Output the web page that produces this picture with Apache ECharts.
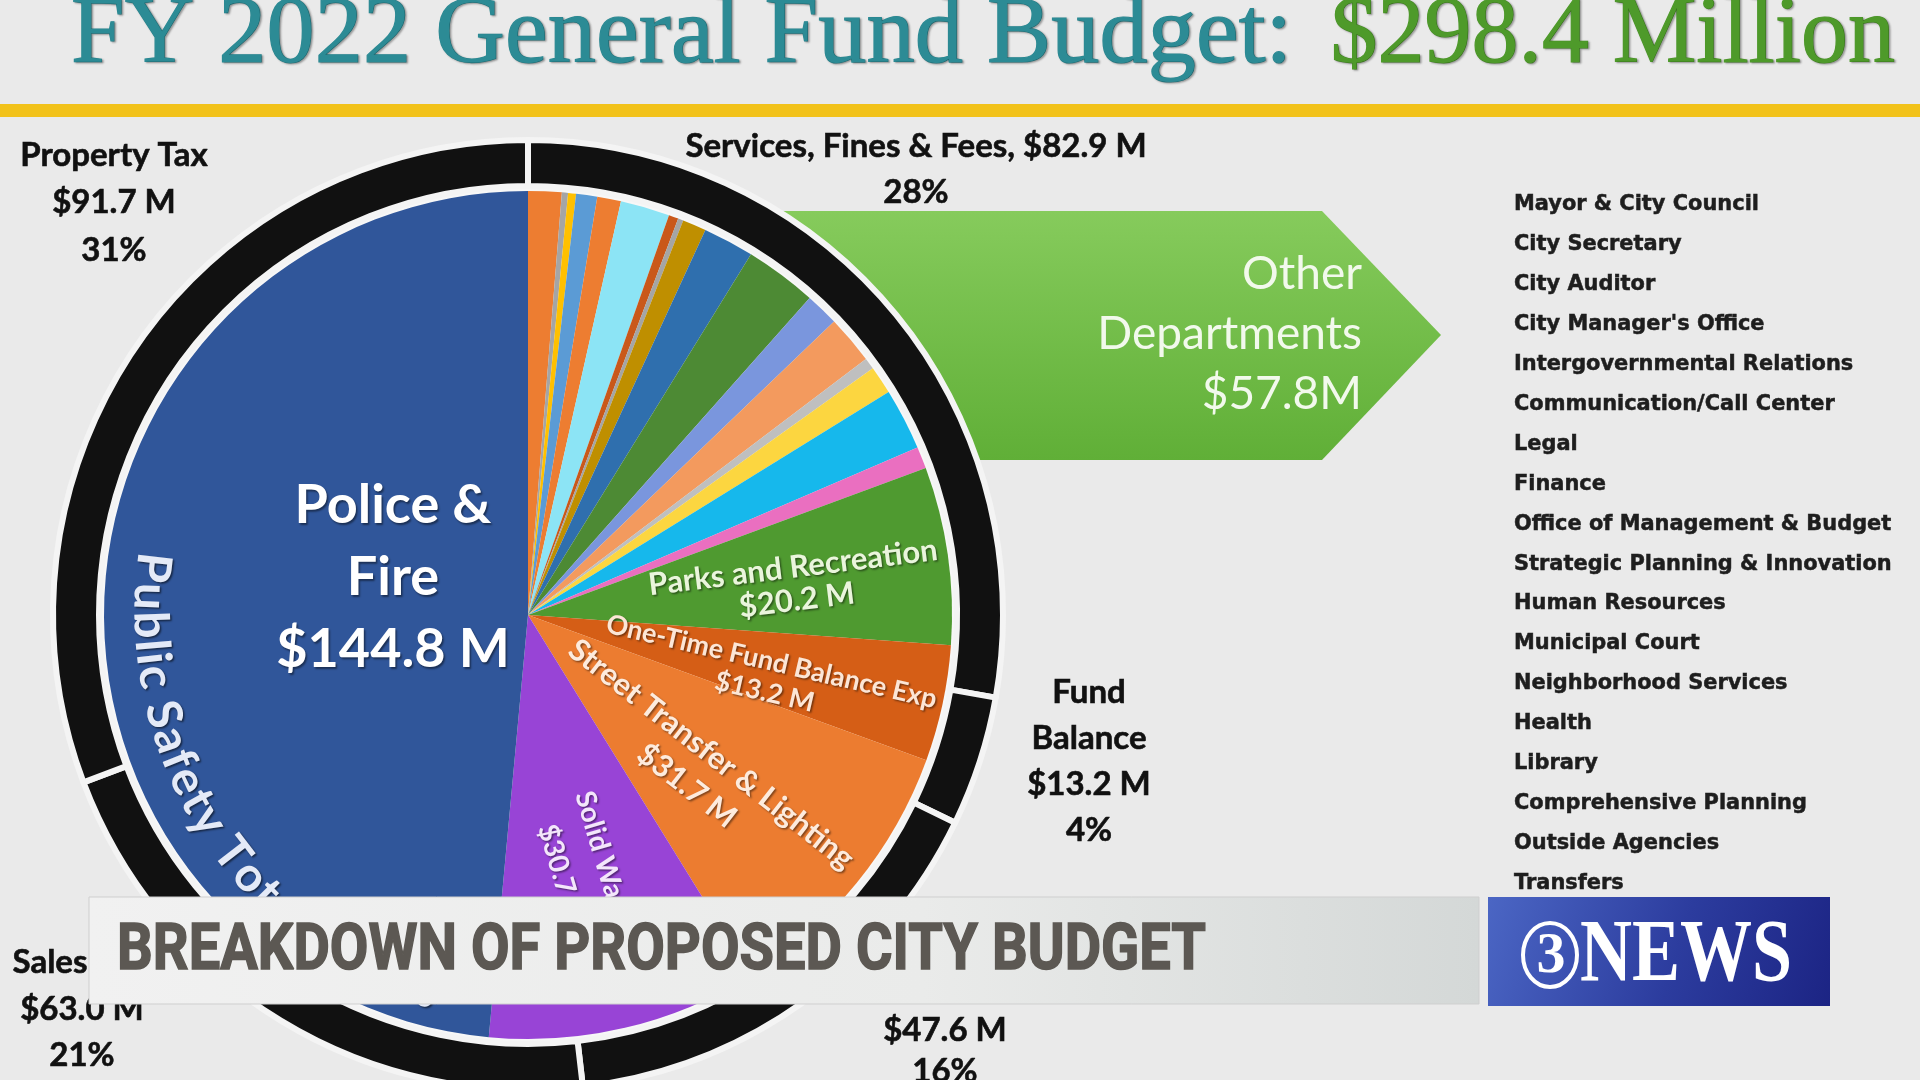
<!DOCTYPE html>
<html><head><meta charset="utf-8">
<script src="https://cdn.jsdelivr.net/npm/echarts@6/dist/echarts.min.js"></script>
<style>html,body{margin:0;padding:0;background:#EAEAEA;}#c{width:1920px;height:1080px;}</style>
</head><body><div id="c"></div>
<script>
// ---------------- DATA ----------------
const titleMain = 'FY 2022 General Fund Budget: ';
const titleTotal = '$298.4 Million';
// inner pie, clockwise from 12 o'clock: the small "Other Departments" slices first
const otherSliceValues = [3.8, 0.7, 0.9, 2.4, 2.7, 5.6, 1.1, 0.6, 2.7, 5.8, 8.2, 3.8, 5.5, 1.3, 3.2, 7.0, 2.5];
const otherSliceColors = ['#ED7D31','#A5A5A5','#FFC000','#5B9BD5','#ED7D31','#8CE4F5','#C9581A','#A5A5A5','#BF8F00','#2F6FAE','#4D8A34','#7A96DD','#F39A5E','#BFBFBF','#FCD640','#16B8EC','#EA6FC0'];
const otherTotalLabel = ['Other', 'Departments', '$57.8M'];
const deptNames  = ['Parks and Recreation', 'One-Time Fund Balance Exp', 'Street Transfer & Lighting', 'Solid Waste', 'Police & Fire'];
const deptValues = [20.2, 13.2, 31.7, 30.7, 144.8];
const deptAmounts = ['$20.2 M', '$13.2 M', '$31.7 M', '$30.7 M', '$144.8 M'];
const deptColors = ['#4F9A30', '#D55E16', '#EC7C30', '#9844D6', '#30569A'];
// outer ring (revenue), clockwise from 12 o'clock
const revenueNames  = ['Services, Fines & Fees', 'Fund Balance', 'Other Revenue', 'Sales', 'Property Tax'];
const revenueValues = [82.9, 13.2, 47.6, 63.0, 91.7];
const revenueAmounts = ['$82.9 M', '$13.2 M', '$47.6 M', '$63.0 M', '$91.7 M'];
const revenuePcts = ['28%', '4%', '16%', '21%', '31%'];
const otherDeptList = ['Mayor & City Council','City Secretary','City Auditor',"City Manager's Office",'Intergovernmental Relations','Communication/Call Center','Legal','Finance','Office of Management & Budget','Strategic Planning & Innovation','Human Resources','Municipal Court','Neighborhood Services','Health','Library','Comprehensive Planning','Outside Agencies','Transfers'];
const publicSafetyText = 'Public Safety Total 48.5%';
const bannerText = 'BREAKDOWN OF PROPOSED CITY BUDGET';

// ---------------- HELPERS ----------------
const C = [528, 615];
const cv = document.createElement('canvas').getContext('2d');
function measure(t, size, fam, wt) { cv.font = (wt || 'normal') + ' ' + size + 'px "' + fam + '"'; return cv.measureText(t).width; }
function txt(o) {
  const st = {
    text: o.text, fontSize: o.size, fontFamily: o.family, fontWeight: o.weight || 'normal',
    fill: o.color, align: o.align || 'center', textAlign: o.align || 'center',
    verticalAlign: 'middle', textVerticalAlign: 'middle'
  };
  if (o.stroke) { st.stroke = o.stroke; st.lineWidth = o.lineWidth || 1; }
  if (o.shadow) { st.textShadowColor = o.shadow; st.textShadowBlur = o.blur || 2; st.textShadowOffsetX = 1.5; st.textShadowOffsetY = 1.5; }
  return { type: 'text', x: o.x, y: o.y, rotation: -(o.rotate || 0) * Math.PI / 180, scaleX: o.scaleX || 1, z: o.z || 10, silent: true, style: st };
}
function block(lines, cx, cy, rot, gap, size, color, wt, z) {
  const r = rot * Math.PI / 180, dx = -Math.sin(r), dy = Math.cos(r);
  return lines.map((l, i) => {
    const k = i - (lines.length - 1) / 2;
    return txt({ text: l, x: cx + dx * gap * k, y: cy + dy * gap * k, rotate: rot, size, family: 'Lato', weight: wt || 'bold', color, shadow: 'rgba(0,0,0,0.45)', z });
  });
}
function plain(lines, cx, cy, gap, size, z) {
  return lines.map((l, i) => txt({ text: l, x: cx, y: cy + gap * i, size, family: 'Lato', weight: 'bold', color: '#111111', stroke: '#111111', lineWidth: 0.6, z }));
}

// ---------------- GRAPHICS ----------------
const els = [];
els.push({ type: 'rect', silent: true, z: 5, shape: { x: 0, y: 104, width: 1920, height: 13 }, style: { fill: '#F2C21A' } });
// title
const TS = 95, TF = 'Liberation Serif';
const w1 = measure(titleMain, TS, TF), w2 = measure(titleTotal, TS, TF);
const tsx = (1895 - 71) / (w1 + w2);
els.push(txt({ text: titleMain, x: 71, y: 37, size: TS, family: TF, color: '#2C8B95', stroke: '#2C8B95', lineWidth: 1.2, align: 'left', scaleX: tsx, shadow: 'rgba(0,0,0,0.3)' }));
els.push(txt({ text: titleTotal, x: 71 + w1 * tsx + 14, y: 37, size: TS, family: TF, color: '#4E9A2A', stroke: '#4E9A2A', lineWidth: 1.2, align: 'left', scaleX: tsx * (1895 - 71 - w1 * tsx - 14) / (w2 * tsx), shadow: 'rgba(0,0,0,0.3)' }));

// green arrow (behind pie)
els.push({ type: 'polygon', silent: true, z: 1, shape: { points: [[700, 211], [1322, 211], [1441, 335], [1322, 460], [700, 460]] },
  style: { fill: new echarts.graphic.LinearGradient(0, 0, 0, 1, [{ offset: 0, color: '#86CB5C' }, { offset: 1, color: '#60AF37' }]) } });
otherTotalLabel.forEach((l, i) => els.push(txt({ text: l, x: 1362, y: 274 + 60 * i, size: 46, family: 'Lato', color: '#F2F9EC', align: 'right' })));

// inner labels
els.push(...block(['Police &', 'Fire', deptAmounts[4]], 393, 578, 0, 72, 54, '#FFFFFF'));
els.push(...block([deptNames[0], deptAmounts[0]], 795, 584, -7, 33, 31, '#EAF5DC'));
els.push(...block([deptNames[1], deptAmounts[1]], 768, 677, 13, 31, 27, '#FCE6D6'));
els.push(...block([deptNames[2], deptAmounts[2]], 699, 770, 38, 40, 31, '#FDEBDD'));
els.push(...block([deptNames[3], deptAmounts[3]], 583, 869, 73.5, 45, 28, '#F3E6FB'));

// curved "Public Safety" text
(function () {
  const fs = 48, r = 398, ac = [548, 612];
  let theta = 276.5 + (measure(publicSafetyText[0], fs, 'Lato', 'bold') / 2) / r * 180 / Math.PI;
  for (const ch of publicSafetyText) {
    const w = measure(ch, fs, 'Lato', 'bold') + 1;
    theta -= (w / 2) / r * 180 / Math.PI;
    const t = theta * Math.PI / 180;
    if (ch !== ' ') els.push(txt({ text: ch, x: ac[0] + r * Math.sin(t), y: ac[1] - r * Math.cos(t), rotate: theta - 180, size: fs, family: 'Lato', weight: 'bold', color: '#E4EAF7', shadow: 'rgba(0,0,0,0.55)' }));
    theta -= (w / 2) / r * 180 / Math.PI;
  }
})();

// outer labels
els.push(...plain([revenueNames[4], revenueAmounts[4], revenuePcts[4]], 114, 155, 47.5, 33));
els.push(...plain([revenueNames[0] + ', ' + revenueAmounts[0], revenuePcts[0]], 916, 146, 46, 33));
els.push(...plain(['Fund', 'Balance', revenueAmounts[1], revenuePcts[1]], 1089, 692, 46, 33));
els.push(...plain([revenueAmounts[2], revenuePcts[2]], 945, 1030, 41, 33));
els.push(...plain([revenueNames[3]], 50, 962, 0, 33));
els.push(...plain([revenueAmounts[3], revenuePcts[3]], 82, 1009, 46, 33));

// department list
const LF = 'DejaVu Sans';
const lfs = 100 * 378 / measure('Strategic Planning & Innovation', 100, LF, 'bold');
otherDeptList.forEach((d, i) => els.push(txt({ text: d, x: 1514, y: 205 + i * 39.9, size: lfs, family: LF, weight: 'bold', color: '#1E1E1E', stroke: '#1E1E1E', lineWidth: 0.5, align: 'left' })));

// banner
els.push({ type: 'rect', silent: true, z: 20, shape: { x: 89, y: 897, width: 1390, height: 107 },
  style: { fill: new echarts.graphic.LinearGradient(0, 0, 1, 0, [{ offset: 0, color: '#F1F1F1' }, { offset: 0.6, color: '#EAEBEA' }, { offset: 1, color: '#D4D8D7' }]), stroke: '#CFCFCF', lineWidth: 1 } });
const BF = 'Roboto', BS = 64;
const bsx = 1089 / measure(bannerText, BS, BF, 'bold');
els.push(txt({ text: bannerText, x: 117, y: 953, size: BS, family: BF, weight: 'bold', color: '#5C5853', stroke: '#5C5853', lineWidth: 1.5, align: 'left', scaleX: bsx, z: 21 }));
// logo
els.push({ type: 'rect', silent: true, z: 20, shape: { x: 1488, y: 897, width: 342, height: 109 },
  style: { fill: new echarts.graphic.LinearGradient(0, 0, 1, 1, [{ offset: 0, color: '#4B66C4' }, { offset: 0.55, color: '#2C3C9E' }, { offset: 1, color: '#1C2484' }]) } });
els.push({ type: 'ellipse', silent: true, z: 21, shape: { cx: 1550, cy: 955, rx: 27, ry: 32 }, style: { fill: 'none', stroke: '#FFFFFF', lineWidth: 4 } });
els.push(txt({ text: '3', x: 1551, y: 957, size: 58, family: 'Liberation Serif', weight: 'bold', color: '#FFFFFF', z: 22 }));
const nsx = 212 / measure('NEWS', 88, 'Liberation Serif', 'bold');
els.push(txt({ text: 'NEWS', x: 1580, y: 957, size: 88, family: 'Liberation Serif', weight: 'bold', color: '#FFFFFF', align: 'left', scaleX: nsx, z: 22 }));

// ---------------- CHART ----------------
const innerData = otherSliceValues.map((v, i) => ({ name: 'Other ' + (i + 1), value: v, itemStyle: { color: otherSliceColors[i] } }))
  .concat(deptNames.map((n, i) => ({ name: n, value: deptValues[i], itemStyle: { color: deptColors[i] } })));
const chart = echarts.init(document.getElementById('c'), null, { renderer: 'canvas' });
chart.setOption({
  backgroundColor: '#EAEAEA',
  animation: false,
  series: [
    { type: 'pie', name: 'gap', center: C, radius: [0, 431], silent: true, z: 2, label: { show: false }, labelLine: { show: false },
      data: [{ value: 1, name: 'gap', itemStyle: { color: '#F7F7F7' } }] },
    { type: 'pie', name: 'Revenue', center: C, radius: [429, 475], startAngle: 90, clockwise: true, silent: true, z: 2,
      label: { show: false }, labelLine: { show: false },
      itemStyle: { color: '#111111', borderColor: '#F4F4F4', borderWidth: 6 },
      data: revenueNames.map((n, i) => ({ name: n, value: revenueValues[i] })) },
    { type: 'pie', name: 'Expenditure', center: C, radius: [0, 424], startAngle: 90, clockwise: true, silent: true, z: 3,
      label: { show: false }, labelLine: { show: false }, itemStyle: { borderWidth: 0 }, data: innerData }
  ],
  graphic: { elements: els }
});
</script></body></html>
